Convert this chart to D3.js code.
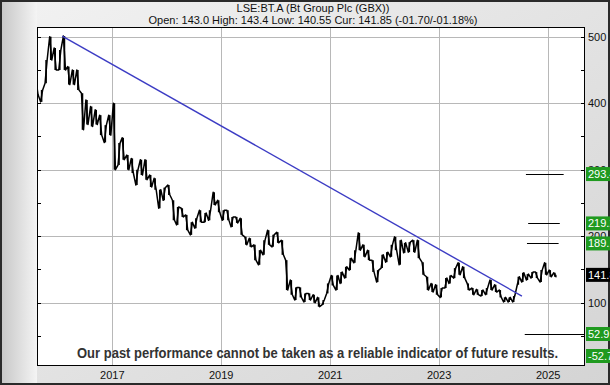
<!DOCTYPE html>
<html>
<head>
<meta charset="utf-8">
<script src="https://cdn.jsdelivr.net/npm/d3@7"></script>
<style>
  html, body { margin: 0; padding: 0; background: #fff; }
  svg { display: block; font-family: "Liberation Sans", Arial, sans-serif; }
</style>
</head>
<body>
<svg id="chart" width="610" height="385"></svg>
<script>
// monthly readings (high / low) from Aug 2015 onwards
const firstMonth = "2015-08-15";
const highs = [435,420,465,500,483,480,501,455,450,450,
  415,405,395,390,382,367,382,400,340,348,
  322,317,300,315,315,292,287,270,273,277,
  254,244,242,232,221,227,239,235,239,266,
  254,239,239,229,229,227,199,197,187,179,
  194,209,202,206,194,164,134,123,123,114,
  114,112,108,104,129,141,141,146,154,167,
  179,205,187,179,164,149,172,176,187,199,
  194,190,191,194,194,161,139,129,127,122,
  137,141,152,160,154,129,122,120,119,122,
  134,127,119,108,108,110,139,145,143,146,
  146,149,160,149,145];
const lows = [413,402,430,465,450,450,450,428,428,420,
  360,368,365,368,352,341,352,300,307,315,
  300,295,277,292,285,274,270,242,254,262,
  224,217,229,209,202,212,221,221,224,247,
  236,224,224,214,220,202,187,184,164,157,
  172,187,184,190,172,119,112,104,108,101,
  104,100,94,97,114,126,119,129,137,149,
  160,179,169,164,146,131,152,161,169,179,
  157,175,176,176,167,142,119,116,112,108,
  122,129,137,142,137,119,112,112,110,112,
  119,116,108,101,101,101,127,131,134,137,
  137,131,142,139,139];
const lastDate = "2025-02-21";
const current = 141.85;

const trendDates = ["2016-01-31", "2024-07-09"];
const trendValues = [501, 110];

const targetValues = [293.45, 219.2, 189.1, 52.91];
const targetFrom = ["2024-08-05", "2024-08-20", "2024-08-12", "2024-07-28"];
const targetTo = ["2025-04-15", "2025-03-20", "2025-03-12", "2025-09-01"];
const lowerLabel = -52.74;

const yTicks = [100, 200, 300, 400, 500];
const yMinor = [50, 100, 150, 200, 250, 300, 350, 400, 450, 500];
const yearTicks = ["2017", "2019", "2021", "2023", "2025"];

const title = "LSE:BT.A (Bt Group Plc (GBX))";
const subtitle = "Open: 143.0 High: 143.4 Low: 140.55 Cur: 141.85 (-01.70/-01.18%)";
const disclaimer = "Our past performance cannot be taken as a reliable indicator of future results.";

const W = 610, H = 385;
const plot = { left: 37, right: 585, top: 27, bottom: 366 };
const parse = d3.timeParse("%Y-%m-%d");

const svg = d3.select("#chart");
const defs = svg.append("defs");

const bg = defs.append("linearGradient").attr("id", "bg").attr("x1", 0).attr("y1", 0).attr("x2", 1).attr("y2", 1);
bg.append("stop").attr("offset", "0%").attr("stop-color", "#f2f2f2");
bg.append("stop").attr("offset", "100%").attr("stop-color", "#d4d4d4");
const side = defs.append("linearGradient").attr("id", "side").attr("x1", 0).attr("y1", 0).attr("x2", 1).attr("y2", 0);
side.append("stop").attr("offset", "0%").attr("stop-color", "#c8c8c8");
side.append("stop").attr("offset", "100%").attr("stop-color", "#f4f4f4");

svg.append("rect").attr("width", W).attr("height", H).attr("fill", "url(#bg)");
svg.append("rect").attr("x", 2).attr("y", 2).attr("width", plot.left - 2).attr("height", H - 4).attr("fill", "url(#side)");
svg.append("rect").attr("x", 1).attr("y", 1).attr("width", W - 2).attr("height", H - 2)
  .attr("fill", "none").attr("stroke", "#2a2a2a").attr("stroke-width", 2);

const x = d3.scaleTime()
  .domain([parse("2015-08-15"), parse("2025-09-05")])
  .range([plot.left, plot.right]);
const y = d3.scaleLinear().domain([4.8, 514.6]).range([plot.bottom, plot.top]);

// plot area
svg.append("rect")
  .attr("x", plot.left).attr("y", plot.top)
  .attr("width", plot.right - plot.left).attr("height", plot.bottom - plot.top)
  .attr("fill", "#fff");

const clip = defs.append("clipPath").attr("id", "plotclip");
clip.append("rect").attr("x", plot.left).attr("y", plot.top)
  .attr("width", plot.right - plot.left).attr("height", plot.bottom - plot.top);

// grid
svg.append("g").selectAll("line").data(yTicks).join("line")
  .attr("x1", plot.left).attr("x2", plot.right)
  .attr("y1", d => Math.round(y(d)) + 0.5).attr("y2", d => Math.round(y(d)) + 0.5)
  .attr("stroke", "#b8b8b8");
svg.append("g").selectAll("line").data(yearTicks).join("line")
  .attr("x1", d => Math.round(x(parse(d + "-01-01"))) + 0.5)
  .attr("x2", d => Math.round(x(parse(d + "-01-01"))) + 0.5)
  .attr("y1", plot.top).attr("y2", plot.bottom)
  .attr("stroke", "#b8b8b8");

// price line, zigzag through each month's high and low
const months = highs.map((h, i) => d3.timeMonth.offset(parse(firstMonth), i));
const pts = [];
months.forEach((m, i) => {
  const mid = (highs[i] + lows[i]) / 2;
  const next = i < months.length - 1 ? (highs[i + 1] + lows[i + 1]) / 2 : current;
  const a = d3.timeDay.offset(m, -7), b = d3.timeDay.offset(m, 7);
  if (next < mid) { pts.push([a, highs[i]], [b, lows[i]]); }
  else { pts.push([a, lows[i]], [b, highs[i]]); }
});
pts.push([parse(lastDate), current]);

const line = d3.line().x(d => x(d[0])).y(d => y(d[1]));
const pg = svg.append("g").attr("clip-path", "url(#plotclip)");
// month ranges as short bars to thicken the band
pg.append("g").selectAll("line").data(months).join("line")
  .attr("x1", d => x(d)).attr("x2", d => x(d))
  .attr("y1", (d, i) => y(highs[i])).attr("y2", (d, i) => y(lows[i]))
  .attr("stroke", "#000").attr("stroke-width", 1.6);
pg.append("path").datum(pts)
  .attr("d", line)
  .attr("fill", "none").attr("stroke", "#000").attr("stroke-width", 1.5)
  .attr("stroke-linejoin", "round");

// trend line
pg.append("line")
  .attr("x1", x(parse(trendDates[0]))).attr("y1", y(trendValues[0]))
  .attr("x2", x(parse(trendDates[1]))).attr("y2", y(trendValues[1]))
  .attr("stroke", "#3c3cc4").attr("stroke-width", 1.4);

// target lines
pg.append("g").selectAll("line").data(targetValues).join("line")
  .attr("x1", (d, i) => x(parse(targetFrom[i])))
  .attr("x2", (d, i) => x(parse(targetTo[i])))
  .attr("y1", d => Math.round(y(d)) + 0.5).attr("y2", d => Math.round(y(d)) + 0.5)
  .attr("stroke", "#000").attr("stroke-width", 1);

// frame and ticks
svg.append("rect")
  .attr("x", plot.left + 0.5).attr("y", plot.top + 0.5)
  .attr("width", plot.right - plot.left - 1).attr("height", plot.bottom - plot.top - 1)
  .attr("fill", "none").attr("stroke", "#000");
svg.append("g").selectAll("line").data(yMinor.filter(d => y(d) > plot.top)).join("line")
  .attr("x1", plot.left).attr("x2", plot.left + 4)
  .attr("y1", d => Math.round(y(d)) + 0.5).attr("y2", d => Math.round(y(d)) + 0.5)
  .attr("stroke", "#000");
svg.append("g").selectAll("line").data(yMinor.filter(d => y(d) > plot.top)).join("line")
  .attr("x1", plot.right - 4).attr("x2", plot.right)
  .attr("y1", d => Math.round(y(d)) + 0.5).attr("y2", d => Math.round(y(d)) + 0.5)
  .attr("stroke", "#000");

// axis labels
svg.append("g").selectAll("text").data(yTicks).join("text")
  .attr("x", plot.right + 3).attr("y", d => y(d) + 4)
  .attr("font-size", 11).attr("fill", "#111").text(d => d);
svg.append("g").selectAll("text").data(yearTicks).join("text")
  .attr("x", d => x(parse(d + "-01-01"))).attr("y", 379)
  .attr("text-anchor", "middle").attr("font-size", 11).attr("fill", "#111").text(d => d);

// value boxes on the right
const boxes = targetValues.map(v => ({ v, label: String(v), fill: "#1f9a1f" }));
boxes.push({ v: current, label: current.toFixed(2), fill: "#000" });
boxes.push({ v: lowerLabel, label: String(lowerLabel), fill: "#1f9a1f" });
const bg2 = svg.append("g").selectAll("g").data(boxes).join("g")
  .attr("transform", d => `translate(${plot.right + 1},${Math.min(y(d.v), plot.bottom - 10)})`);
bg2.append("rect").attr("x", 0).attr("y", -7).attr("width", 30).attr("height", 14).attr("fill", d => d.fill);
bg2.append("text").attr("x", 2).attr("y", 4).attr("font-size", 11).attr("fill", "#fff").text(d => d.label);

// titles
svg.append("text").attr("x", 313).attr("y", 12).attr("text-anchor", "middle")
  .attr("font-size", 11).attr("fill", "#111").text(title);
svg.append("text").attr("x", 313).attr("y", 24).attr("text-anchor", "middle")
  .attr("font-size", 11).attr("fill", "#111").text(subtitle);

svg.append("text").attr("x", 77).attr("y", 358)
  .attr("font-family", "'Liberation Sans Narrow', 'Liberation Sans', Arial, sans-serif")
  .attr("font-weight", "bold").attr("font-size", 15).attr("fill", "#333")
  .attr("textLength", 481).attr("lengthAdjust", "spacingAndGlyphs")
  .text(disclaimer);
</script>
</body>
</html>
